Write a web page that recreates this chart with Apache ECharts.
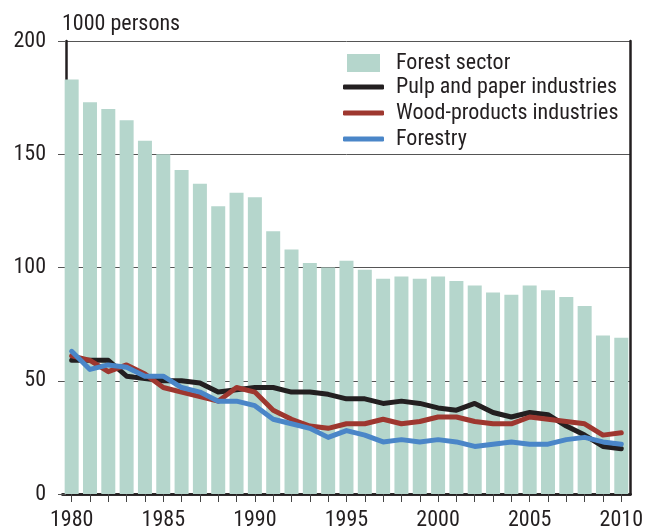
<!DOCTYPE html>
<html>
<head>
<meta charset="utf-8">
<script src="https://cdn.jsdelivr.net/npm/echarts@6/dist/echarts.min.js"></script>
<style>
  html, body { margin: 0; padding: 0; background: #fff; }
  #chart { width: 646px; height: 531px; }
</style>
</head>
<body>
<div id="chart"></div>
<script>
// Employment in the forest sector, thousands of persons
const years = [];
for (let y = 1980; y <= 2010; y++) years.push(String(y));

const forestSector = [183, 173, 170, 165, 156, 150, 143, 137, 127, 133, 131, 116, 108, 102, 100,
  103, 99, 95, 96, 95, 96, 94, 92, 89, 88, 92, 90, 87, 83, 70, 69];
const pulpPaper = [59, 59, 59, 52, 51, 50, 50, 49, 45, 46, 47, 47, 45, 45, 44,
  42, 42, 40, 41, 40, 38, 37, 40, 36, 34, 36, 35, 30, 26, 21, 20];
const woodProducts = [61, 59, 54, 57, 53, 47, 45, 43, 41, 47, 45, 37, 33, 30, 29,
  31, 31, 33, 31, 32, 34, 34, 32, 31, 31, 34, 33, 32, 31, 26, 27];
const forestry = [63, 55, 57, 56, 52, 52, 47, 45, 41, 41, 39, 33, 31, 29, 25,
  28, 26, 23, 24, 23, 24, 23, 21, 22, 23, 22, 22, 24, 25, 23, 22];

const seriesNames = ['Forest sector', 'Pulp and paper industries', 'Wood-products industries', 'Forestry'];
const colors = ['#b5d6cc', '#231f20', '#9e372f', '#4a86c8'];

const FONT = '"Roboto Condensed", "Liberation Sans", sans-serif';
const INK = '#231f20';

const chart = echarts.init(document.getElementById('chart'), null, { renderer: 'canvas' });

chart.setOption({
  animation: false,
  backgroundColor: '#ffffff',
  title: {
    text: '1000 persons',
    left: 57, top: 8,
    textStyle: { fontFamily: FONT, fontSize: 22, fontWeight: 'normal', color: INK }
  },
  legend: [
    {
      data: [{ name: seriesNames[0], icon: 'rect' }],
      orient: 'vertical',
      left: 342, top: 47,
      itemWidth: 33, itemHeight: 18,
      textStyle: { fontFamily: FONT, fontSize: 22, color: INK, padding: [0, 0, 0, 11] }
    },
    {
      data: seriesNames.slice(1).map(n => ({ name: n, icon: 'roundRect' })),
      orient: 'vertical',
      left: 338, top: 71,
      itemWidth: 41, itemHeight: 5, itemGap: 4,
      textStyle: { fontFamily: FONT, fontSize: 22, lineHeight: 21, color: INK, padding: [0, 0, 0, 7] }
    }
  ],
  grid: { left: 62.5, right: 15, top: 41, bottom: 37, containLabel: false },
  xAxis: [
    {
      type: 'category',
      data: years,
      boundaryGap: true,
      axisLine: { lineStyle: { color: INK, width: 2.5 } },
      axisTick: { show: true, interval: 0, alignWithLabel: true, length: 8, lineStyle: { color: '#444', width: 1 } },
      axisLabel: {
        interval: 4, margin: 15,
        fontFamily: FONT, fontSize: 22, color: INK
      },
      splitLine: { show: false }
    },
    {
      type: 'category',
      data: years,
      position: 'top',
      axisLine: { lineStyle: { color: INK, width: 2.5 } },
      axisTick: { show: false },
      axisLabel: { show: false }
    }
  ],
  yAxis: [
    {
      type: 'value',
      min: 0, max: 200, interval: 50,
      offset: -3.5,
      axisLine: { show: true, lineStyle: { color: INK, width: 2.5 } },
      axisTick: { show: true, length: 8, lineStyle: { color: '#555', width: 1 } },
      axisLabel: { margin: 20, fontFamily: FONT, fontSize: 22, color: INK },
      splitLine: { show: true, lineStyle: { color: '#555', width: 1 } }
    },
    {
      type: 'value',
      min: 0, max: 200, interval: 50,
      position: 'right',
      axisLine: { show: true, lineStyle: { color: INK, width: 2.5 } },
      axisTick: { show: false },
      axisLabel: { show: false },
      splitLine: { show: false }
    }
  ],
  series: [
    {
      name: seriesNames[0], type: 'bar', data: forestSector,
      barWidth: 14, itemStyle: { color: colors[0] }, z: 1
    },
    {
      name: seriesNames[1], type: 'line', data: pulpPaper, symbol: 'none',
      itemStyle: { color: colors[1] }, lineStyle: { color: colors[1], width: 5, join: 'round', cap: 'round' }, z: 3
    },
    {
      name: seriesNames[2], type: 'line', data: woodProducts, symbol: 'none',
      itemStyle: { color: colors[2] }, lineStyle: { color: colors[2], width: 5, join: 'round', cap: 'round' }, z: 4
    },
    {
      name: seriesNames[3], type: 'line', data: forestry, symbol: 'none',
      itemStyle: { color: colors[3] }, lineStyle: { color: colors[3], width: 5, join: 'round', cap: 'round' }, z: 5
    }
  ]
});
</script>
</body>
</html>
